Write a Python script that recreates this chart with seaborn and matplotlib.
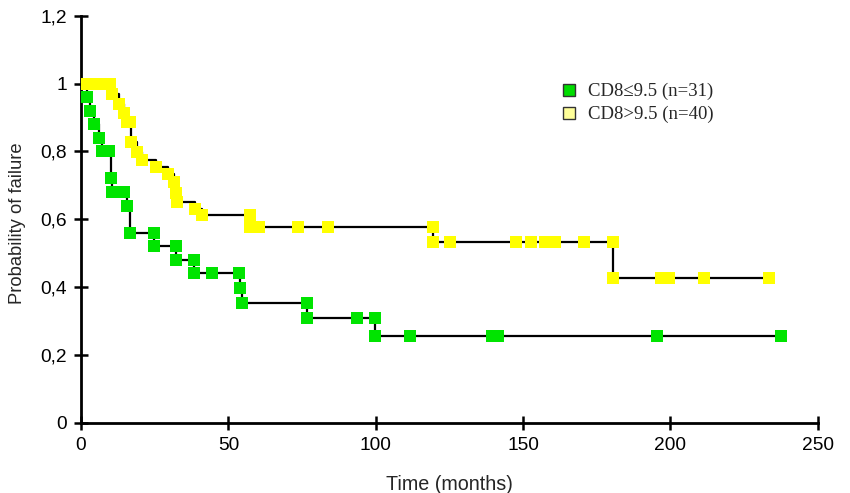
import numpy as np
import pandas as pd

import matplotlib
matplotlib.use('Agg')
import matplotlib.pyplot as plt
from matplotlib.lines import Line2D

import seaborn as sns


# CD8 <= 9.5 (n=31): time (months) and probability at each mark
low_t = [2.1, 3.0, 4.5, 6.1, 7.0, 9.5, 10.1, 10.6, 14.6, 15.7,
         16.5, 24.7, 24.7, 32.1, 32.1, 38.3, 38.3, 44.5, 53.5, 54.1,
         54.6, 76.7, 76.7, 93.6, 99.6, 99.6, 111.7, 139.5, 141.5, 195.6,
         237.6]
low_p = [0.96, 0.92, 0.88, 0.84, 0.80, 0.80, 0.72, 0.68, 0.68, 0.64,
         0.56, 0.56, 0.52, 0.52, 0.48, 0.48, 0.44, 0.44, 0.44, 0.396,
         0.352, 0.352, 0.308, 0.308, 0.308, 0.257, 0.257, 0.257, 0.257, 0.257,
         0.257]

# CD8 > 9.5 (n=40)
high_t = [0, 2, 4, 6, 8, 10, 10.6, 12.9, 14.6, 15.7,
          16.6, 17.0, 19.1, 20.8, 25.6, 29.6, 31.5, 32.1, 32.6, 38.8,
          41.1, 57.5, 57.5, 60.3, 73.6, 83.7, 119.6, 119.6, 125.2, 147.5,
          152.7, 157.4, 160.8, 170.6, 180.6, 180.6, 196.9, 199.7, 211.3, 233.6]
high_p = [1, 1, 1, 1, 1, 1, 0.97, 0.94, 0.913, 0.886,
          0.886, 0.827, 0.798, 0.774, 0.754, 0.734, 0.71, 0.676, 0.651, 0.631,
          0.612, 0.612, 0.577, 0.577, 0.577, 0.577, 0.577, 0.533, 0.533, 0.533,
          0.533, 0.533, 0.533, 0.533, 0.533, 0.427, 0.427, 0.427, 0.427, 0.427]

labels = ['CD8≤9.5 (n=31)', 'CD8>9.5 (n=40)']
x_ticks = [0, 50, 100, 150, 200, 250]
y_ticks = [0, 0.2, 0.4, 0.6, 0.8, 1.0, 1.2]
y_tick_labels = ['0', '0,2', '0,4', '0,6', '0,8', '1', '1,2']

sns.set_style('ticks')
plt.rcParams['font.family'] = ['Liberation Sans', 'DejaVu Sans']

fig = plt.figure(figsize=(8.5, 4.93), dpi=100)
ax = fig.add_axes([0.0953, 0.1426, 0.8667, 0.8256])

groups = [(low_t, low_p, '#00e400'), (high_t, high_p, '#ffff00')]
for i, (t, p, col) in enumerate(groups):
    line_x = [0] + t
    line_y = [1] + p
    sns.lineplot(x=line_x, y=line_y, drawstyle='steps-post', estimator=None,
                 sort=False, color='black', lw=1.6, ax=ax, zorder=2 + i * 2)
    sns.scatterplot(x=t, y=p, marker='s', s=78, color=col, edgecolor=col,
                    linewidth=0, ax=ax, zorder=3 + i * 2)

ax.set_xlim(0, 250)
ax.set_ylim(0, 1.2)
ax.set_xticks(x_ticks)
ax.set_yticks(y_ticks)
ax.set_yticklabels(y_tick_labels)
ax.tick_params(direction='inout', length=10, width=1.8, labelsize=13.8,
               colors='black', pad=5)
sns.despine(ax=ax)
for s in ['left', 'bottom']:
    ax.spines[s].set_linewidth(2)
    ax.spines[s].set_color('black')

ax.set_xlabel('Time (months)', fontsize=14.2)
ax.set_ylabel('Probability of failure', fontsize=13.2)
ax.xaxis.set_label_coords(0.5, -0.128)
ax.yaxis.set_label_coords(-0.075, 0.49)

handles = [
    Line2D([], [], marker='s', linestyle='none', markersize=9,
           markerfacecolor='#00dd00', markeredgecolor='#333333', markeredgewidth=1),
    Line2D([], [], marker='s', linestyle='none', markersize=9,
           markerfacecolor='#ffff99', markeredgecolor='#333333', markeredgewidth=1),
]
fig.legend(handles, labels, loc='upper left', bbox_to_anchor=(0.662, 0.832),
           frameon=False, borderpad=0, borderaxespad=0, handlelength=0.7,
           handletextpad=0.67, labelspacing=0.31,
           prop={'family': ['Liberation Serif', 'DejaVu Serif'], 'size': 13.5})

fig.savefig('out.png', dpi=100)
